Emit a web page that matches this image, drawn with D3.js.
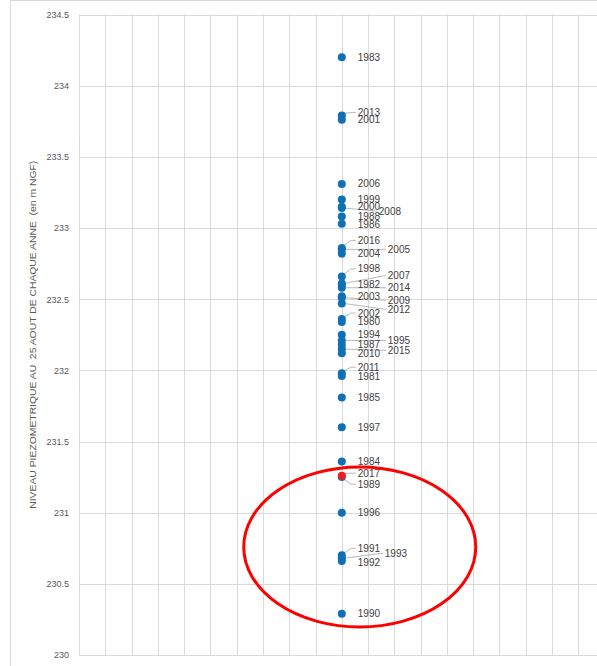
<!DOCTYPE html>
<html>
<head>
<meta charset="utf-8">
<script src="https://cdn.jsdelivr.net/npm/d3@7"></script>
<style>
html,body{margin:0;padding:0;background:#fff;}
svg{display:block;font-family:"Liberation Sans",Arial,sans-serif;}
</style>
</head>
<body>
<div id="chart"></div>
<script>
// ---- data ----
const years  = [1983,2013,2001,2006,1999,2000,2008,1988,1986,2016,2005,2004,1998,2007,1982,2014,2003,2009,2012,2002,1980,1994,1995,1987,2015,2010,2011,1981,1985,1997,1984,1989,2017,1996,1991,1993,1992,1990];
const levels = [234.20,233.79,233.76,233.31,233.20,233.15,233.14,233.08,233.03,232.86,232.85,232.82,232.66,232.61,232.60,232.58,232.52,232.51,232.47,232.36,232.34,232.25,232.21,232.18,232.15,232.12,231.98,231.96,231.81,231.60,231.36,231.25,231.26,231.00,230.70,230.68,230.66,230.29];
const xPosition = 10;          // all points share the same x value
const highlightYear = 2017;
const yTicks = [230,230.5,231,231.5,232,232.5,233,233.5,234,234.5];
const xGrid = d3.range(0,21);
const yTitle = "NIVEAU PIEZOMETRIQUE AU  25 AOUT DE CHAQUE ANNE  (en m NGF)";

// ---- label layout (pixel offsets from point), default [16,0] ----
const labelOffsets = {
  2013:[16,-3], 2008:[37,3], 1986:[16,1], 2016:[16,-7.5], 2005:[46,0],
  1998:[16,-7.5], 2007:[46,-8], 2014:[46,0], 2009:[46,2.5], 2012:[46,6],
  2002:[16,-6], 1995:[46,0], 2015:[46,1.5], 2011:[16,-6], 2017:[16,-2.5],
  1989:[16,7], 1991:[16,-7], 1993:[43,-5], 1992:[16,1]
};
const leaderYears = [2013,2008,2016,2005,1998,2007,2014,2009,2012,2002,1995,2015,2011,2017,1989,1991,1993];

// ---- chart ----
const W = 597, H = 666;
const plot = {left:79, top:14.5, bottom:655, step:26.28};
const svg = d3.select("#chart").append("svg").attr("width",W).attr("height",H);

const y = d3.scaleLinear().domain([230,234.5]).range([plot.bottom, plot.top]);
const x = d3.scaleLinear().domain([0,20]).range([plot.left, plot.left+20*plot.step]);

// outer chart border
svg.append("line").attr("x1",10).attr("x2",W).attr("y1",0.5).attr("y2",0.5).attr("stroke","#d9d9d9");
svg.append("line").attr("x1",10.5).attr("x2",10.5).attr("y1",0).attr("y2",H).attr("stroke","#d9d9d9");

// gridlines
svg.append("g").selectAll("line").data(yTicks).join("line")
  .attr("x1",plot.left).attr("x2",x(20)).attr("y1",d=>Math.round(y(d))+0.5).attr("y2",d=>Math.round(y(d))+0.5)
  .attr("stroke","#d9d9d9").attr("stroke-width",1);
svg.append("g").selectAll("line").data(xGrid).join("line")
  .attr("x1",d=>Math.round(x(d))+0.5).attr("x2",d=>Math.round(x(d))+0.5).attr("y1",plot.top).attr("y2",plot.bottom)
  .attr("stroke","#d9d9d9").attr("stroke-width",1);

// y tick labels
const yAxis = d3.axisLeft(y).tickValues(yTicks).tickSize(0).tickPadding(0).tickFormat(d3.format(""));
const ga = svg.append("g").attr("transform",`translate(69,0)`).call(yAxis);
ga.select(".domain").remove();
ga.selectAll("text").attr("fill","#595959").attr("font-size","9px").attr("font-family","Liberation Sans, Arial, sans-serif");

// y title
svg.append("text")
  .attr("transform",`translate(36,${(plot.top+plot.bottom)/2}) rotate(-90)`)
  .attr("text-anchor","middle").attr("font-size","9px").attr("fill","#595959")
  .style("white-space","pre")
  .attr("textLength",348).attr("lengthAdjust","spacingAndGlyphs")
  .text(yTitle);

// data
const data = years.map((yr,i)=>({year:yr, v:levels[i]}));

// leader lines
const lg = svg.append("g");
data.filter(d=>leaderYears.includes(d.year)).forEach(d=>{
  const px = x(xPosition), py = y(d.v);
  const off = labelOffsets[d.year] || [16,0];
  const lx = px+off[0], ly = py+off[1];
  let pts;
  if (off[0] > 20) pts = [[px+2,py],[lx-2,ly]];
  else pts = [[px+2, py+(off[1]<0?-2:2)],[lx-7,ly],[lx-2,ly]];
  lg.append("path").attr("d",d3.line()(pts)).attr("fill","none")
    .attr("stroke","#a6a6a6").attr("stroke-width",0.8);
});

// points
svg.append("g").selectAll("circle").data(data.filter(d=>d.year!==highlightYear)).join("circle")
  .attr("cx",x(xPosition)).attr("cy",d=>y(d.v)).attr("r",4).attr("fill","#0f70b6");
svg.append("g").selectAll("circle").data(data.filter(d=>d.year===highlightYear)).join("circle")
  .attr("cx",x(xPosition)).attr("cy",d=>y(d.v)).attr("r",4).attr("fill","#ee1c1c");

// labels
svg.append("g").selectAll("text").data(data).join("text")
  .attr("x",d=>x(xPosition)+(labelOffsets[d.year]||[16,0])[0])
  .attr("y",d=>y(d.v)+(labelOffsets[d.year]||[16,0])[1])
  .attr("dy","0.35em").attr("font-size","10px").attr("fill","#404040")
  .text(d=>d.year);

// highlight ellipse
svg.append("ellipse").attr("cx",359.75).attr("cy",547).attr("rx",116).attr("ry",80)
  .attr("fill","none").attr("stroke","#ff0000").attr("stroke-width",3);
</script>
</body>
</html>
